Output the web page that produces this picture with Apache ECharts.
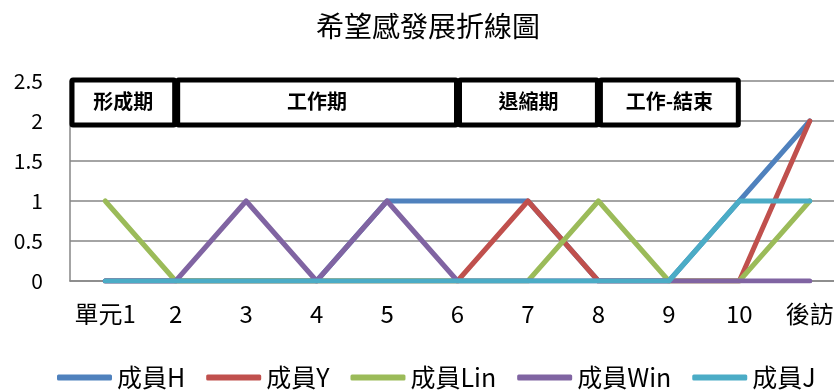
<!DOCTYPE html>
<html>
<head>
<meta charset="utf-8">
<script src="https://cdn.jsdelivr.net/npm/echarts@6/dist/echarts.min.js"></script>
<style>
  html, body { margin: 0; padding: 0; background: #fff; overflow: hidden; }
  #chart { width: 834px; height: 390px; }
</style>
</head>
<body>
<div id="chart"></div>
<script>
// Sessions of the group
var categories = ['單元1', '2', '3', '4', '5', '6', '7', '8', '9', '10', '後訪'];

// Hope score of each member per session
var memberH   = [0, 0, 0, 0, 1, 1, 1, 0, 0, 1, 2];
var memberY   = [0, 0, 0, 0, 0, 0, 1, 0, 0, 0, 2];
var memberLin = [1, 0, 0, 0, 0, 0, 0, 1, 0, 0, 1];
var memberWin = [0, 0, 1, 0, 1, 0, 0, 0, 0, 0, 0];
var memberJ   = [0, 0, 0, 0, 0, 0, 0, 0, 0, 1, 1];

var seriesNames = ['成員H', '成員Y', '成員Lin', '成員Win', '成員J'];
var seriesData = [memberH, memberY, memberLin, memberWin, memberJ];
var colors = ['#4F81BD', '#C0504D', '#9BBB59', '#8064A2', '#4BACC6'];

// Group stages: label, starting category, ending category
var stageLabels = ['形成期', '工作期', '退縮期', '工作-結束'];
var stageStarts = [null, '2', '6', '8'];
var stageEnds   = ['2', '6', '8', '10'];

var yTicks = { min: 0, max: 2.5, interval: 0.5 };

var FONT = '"Noto Sans CJK TC", "Noto Sans", sans-serif';

var chart = echarts.init(document.getElementById('chart'));

var option = {
  backgroundColor: '#fff',
  animation: false,
  color: colors,
  title: {
    text: '希望感發展折線圖',
    left: 311,
    top: 7,
    textStyle: { fontFamily: FONT, fontSize: 28, fontWeight: 'normal', color: '#000' }
  },
  // plot runs slightly past the right edge of the canvas
  grid: { left: 70, width: 775, top: 81, height: 200, containLabel: false, outerBoundsMode: 'none' },
  legend: {
    data: seriesNames,
    top: 360,
    left: 52,
    itemWidth: 55,
    itemHeight: 6,
    itemGap: 21,
    icon: 'roundRect',
    textStyle: { fontFamily: FONT, fontSize: 25, color: '#000' }
  },
  xAxis: {
    type: 'category',
    data: categories,
    boundaryGap: true,
    axisLine: { show: true, lineStyle: { color: '#868686', width: 1.5 } },
    axisTick: { show: false },
    axisLabel: { fontFamily: FONT, fontSize: 24, color: '#000', margin: 21, interval: 0, hideOverlap: false }
  },
  yAxis: {
    type: 'value',
    min: yTicks.min,
    max: yTicks.max,
    interval: yTicks.interval,
    axisLine: { show: true, lineStyle: { color: '#868686', width: 1.5 } },
    axisTick: { show: false },
    axisLabel: { fontFamily: FONT, fontSize: 21, color: '#000', margin: 27 },
    splitLine: { lineStyle: { color: '#868686', width: 1.5 } }
  },
  series: seriesNames.map(function (name, i) {
    return {
      name: name,
      type: 'line',
      data: seriesData[i],
      symbol: 'none',
      lineStyle: { width: 5, color: colors[i], cap: 'round', join: 'round' },
      itemStyle: { color: colors[i] }
    };
  })
};

chart.setOption(option);

// Stage boxes drawn above the plot, spanning category centres
function stageGraphics() {
  var px = function (c) { return chart.convertToPixel({ xAxisIndex: 0 }, c); };
  var yTop = chart.convertToPixel({ yAxisIndex: 0 }, yTicks.max) - 1;
  var yBottom = chart.convertToPixel({ yAxisIndex: 0 }, 2) + 4;
  var gridLeft = px(categories[0]) - (px(categories[1]) - px(categories[0])) / 2;
  var els = [];
  stageLabels.forEach(function (label, i) {
    var x0 = (stageStarts[i] === null ? gridLeft : px(stageStarts[i])) + 2;
    var x1 = px(stageEnds[i]) - 1;
    els.push({
      type: 'rect',
      z: 100,
      shape: { x: x0, y: yTop, width: x1 - x0, height: yBottom - yTop, r: 1 },
      style: { fill: '#fff', stroke: '#000', lineWidth: 5 }
    });
    els.push({
      type: 'text',
      z: 101,
      x: (x0 + x1) / 2,
      y: (yTop + yBottom) / 2 - 1,
      style: {
        text: label,
        fontFamily: FONT,
        fontSize: 20,
        fontWeight: 'bold',
        fill: '#000',
        align: 'center',
        verticalAlign: 'middle'
      }
    });
  });
  return els;
}

chart.setOption({ graphic: stageGraphics() });
</script>
</body>
</html>
